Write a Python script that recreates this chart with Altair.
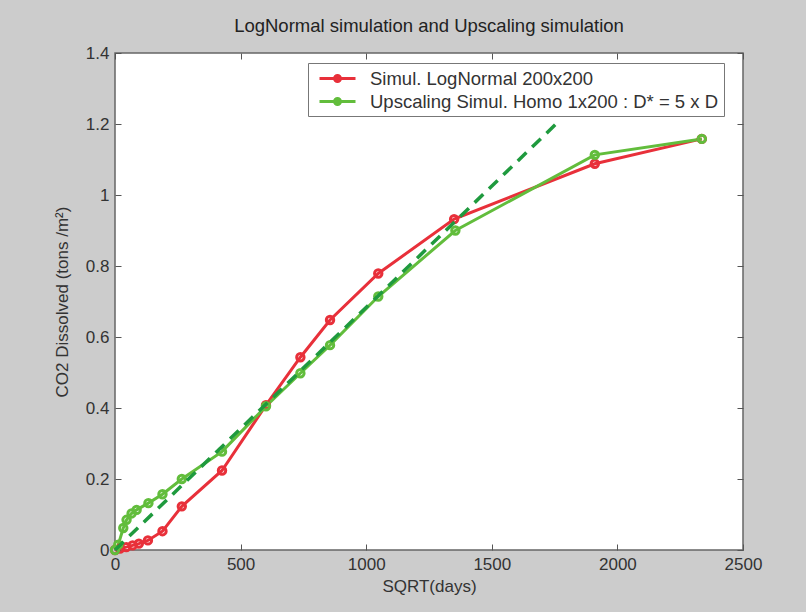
import altair as alt
import pandas as pd

# ---- data ----
series_names = ["Simul. LogNormal 200x200", "Upscaling Simul. Homo 1x200 : D* = 5 x D"]

red_x = [0, 20, 45, 70, 95, 131, 189, 266, 426, 601, 738, 856, 1048, 1350, 1910, 2336]
red_y = [0, 0.004, 0.008, 0.013, 0.018, 0.027, 0.053, 0.123, 0.224, 0.408, 0.543, 0.648, 0.779, 0.932, 1.088, 1.158]

green_x = [0, 13, 33, 46, 66, 86, 133, 189, 266, 426, 601, 738, 856, 1048, 1355, 1910, 2336]
green_y = [0, 0.015, 0.062, 0.085, 0.103, 0.113, 0.132, 0.157, 0.2, 0.277, 0.405, 0.498, 0.577, 0.714, 0.9, 1.113, 1.158]

fit_x = [0, 1760]
fit_y = [0, 1.203]

x_ticks = [0, 500, 1000, 1500, 2000, 2500]
y_ticks = [0, 0.2, 0.4, 0.6, 0.8, 1.0, 1.2, 1.4]

RED = "#e8303a"
GREEN = "#62bd3c"
DARK_GREEN = "#1f9a3e"
FONT = "Liberation Sans"

df = pd.concat([
    pd.DataFrame({"x": red_x, "y": red_y, "series": series_names[0]}),
    pd.DataFrame({"x": green_x, "y": green_y, "series": series_names[1]}),
])
fit = pd.DataFrame({"x": fit_x, "y": fit_y})

xscale = alt.Scale(domain=[0, 2500], nice=False, zero=False)
yscale = alt.Scale(domain=[0, 1.4], nice=False, zero=False)

x_axis = alt.Axis(values=x_ticks, format="d", title="SQRT(days)", domain=False, grid=False,
                  tickSize=6, offset=-6, labelPadding=6, labelFlush=False, labelOverlap=False,
                  tickColor="#555", labelColor="#333", labelFontSize=17, labelFont=FONT,
                  titleFont=FONT, titleFontSize=17, titleFontWeight="normal", titleColor="#333",
                  titlePadding=6)
y_axis = alt.Axis(values=y_ticks, format="~g", title="CO2 Dissolved (tons /m²)", domain=False, grid=False,
                  tickSize=6, offset=-6, labelPadding=6, labelFlush=False, labelOverlap=False,
                  tickColor="#555", labelColor="#333", labelFontSize=17, labelFont=FONT,
                  titleFont=FONT, titleFontSize=17, titleFontWeight="normal", titleColor="#333",
                  titlePadding=14)

legend = alt.Legend(
    title=None, orient="none", legendX=193, legendY=10,
    symbolType="M-2,0H2M-0.33,0A0.33,0.33,0,1,1,0.33,0A0.33,0.33,0,1,1,-0.33,0",
    symbolSize=324, symbolStrokeWidth=3, symbolOffset=14,
    labelFont=FONT, labelFontSize=18.5, labelColor="#333", labelOffset=22, labelLimit=500,
    rowPadding=3, padding=5, fillColor="white", strokeColor="#777",
)
color = alt.Color("series:N", scale=alt.Scale(domain=series_names, range=[RED, GREEN]), legend=legend)

lines = alt.Chart(df).mark_line(strokeWidth=3).encode(
    x=alt.X("x:Q", scale=xscale, axis=x_axis),
    y=alt.Y("y:Q", scale=yscale, axis=y_axis),
    color=color,
    detail="series:N",
)
points = alt.Chart(df).mark_point(filled=False, size=55, strokeWidth=3, opacity=1).encode(
    x=alt.X("x:Q", scale=xscale, axis=x_axis),
    y=alt.Y("y:Q", scale=yscale, axis=y_axis),
    color=color,
)
dashed = alt.Chart(fit).mark_line(strokeWidth=3.5, strokeDash=[12, 8], color=DARK_GREEN).encode(
    x=alt.X("x:Q", scale=xscale, axis=x_axis),
    y=alt.Y("y:Q", scale=yscale, axis=y_axis),
)
inner = alt.layer(lines, points, dashed)

top_right = alt.Chart(df).mark_point(opacity=0).encode(
    x=alt.X("x:Q", scale=xscale, axis=alt.Axis(orient="top", values=x_ticks, labels=False, title=None,
                                               domain=False, grid=False, tickSize=6, offset=-6, tickColor="#555")),
    y=alt.Y("y:Q", scale=yscale, axis=alt.Axis(orient="right", values=y_ticks, labels=False, title=None,
                                               domain=False, grid=False, tickSize=6, offset=-6, tickColor="#555")),
)

chart = alt.layer(inner, top_right).resolve_axis(x="independent", y="independent").properties(
    width=628, height=497,
    title=alt.TitleParams("LogNormal simulation and Upscaling simulation", font=FONT, fontSize=18.5,
                          fontWeight="normal", color="#222", offset=9, anchor="middle"),
    autosize=alt.AutoSizeParams(type="none"),
    padding={"left": 115, "top": 53, "right": 63, "bottom": 62},
    background="#cccccc",
).configure_view(fill="white", stroke="#666", strokeWidth=1.5)

chart.save("out.html", embed_options={"renderer": "svg", "actions": False})
